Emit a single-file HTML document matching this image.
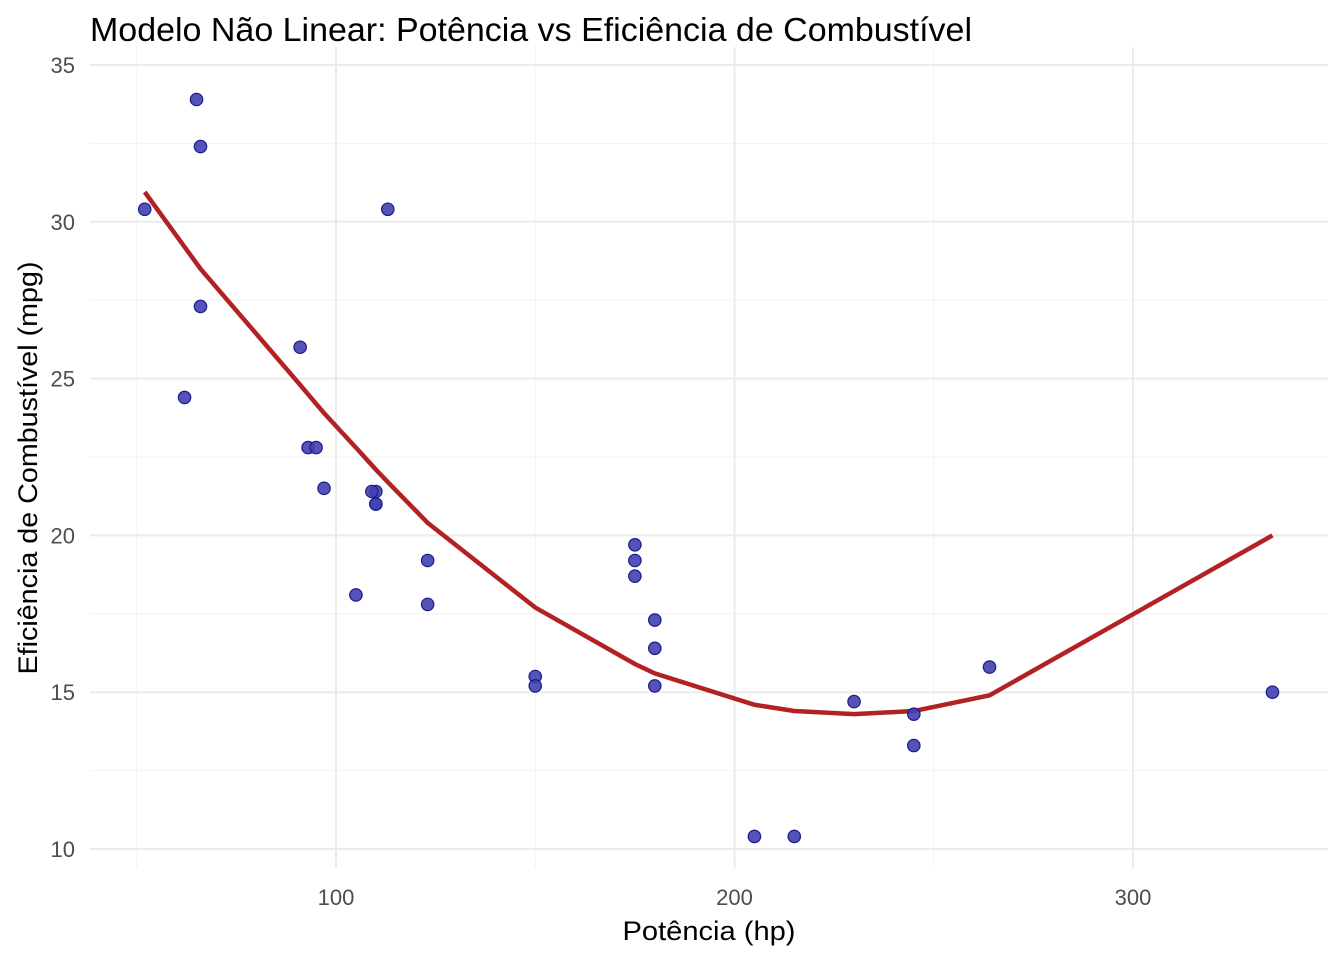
<!DOCTYPE html>
<html><head><meta charset="utf-8"><style>
body{margin:0;background:#fff;}
svg text{font-family:"Liberation Sans",sans-serif;}
</style></head><body>
<svg id="chart" width="1344" height="960" xmlns="http://www.w3.org/2000/svg">
<text x="90" y="41" font-size="33" textLength="882" lengthAdjust="spacingAndGlyphs" fill="#000">Modelo Não Linear: Potência vs Eficiência de Combustível</text>
<g id="grid"></g><g id="ticks"></g>
<text x="709" y="940" font-size="27" textLength="173" lengthAdjust="spacingAndGlyphs" text-anchor="middle">Potência (hp)</text>
<text transform="translate(37,468) rotate(-90)" font-size="27" textLength="413" lengthAdjust="spacingAndGlyphs" text-anchor="middle">Eficiência de Combustível (mpg)</text>
<g id="fit"></g><g id="points"></g>
</svg>
<script>
const hp=[110,110,93,110,175,105,245,62,95,123,123,180,180,180,205,215,230,66,52,65,97,150,150,245,175,66,91,113,264,175,335,109];
const mpg=[21,21,22.8,21.4,18.7,18.1,14.3,24.4,22.8,19.2,17.8,16.4,17.3,15.2,10.4,10.4,14.7,32.4,30.4,33.9,21.5,15.5,15.2,13.3,19.2,27.3,26,30.4,15.8,19.7,15,21.4];
const fitHp=[52,62,66,91,93,97,105,110,113,123,150,175,180,205,215,230,245,264,335];
const fitMpg=[30.95,29.2,28.5,24.8,24.5,23.9,22.8,22.1,21.7,20.4,17.7,15.9,15.6,14.6,14.4,14.3,14.4,14.9,20];
const xTicks=[100,200,300], yTicks=[10,15,20,25,30,35];
const X=v=>336+(v-100)*3.985, Y=v=>849-(v-10)*31.36;
const NS="http://www.w3.org/2000/svg";
function mk(t,a,p){const e=document.createElementNS(NS,t);for(const k in a)e.setAttribute(k,a[k]);p.appendChild(e);return e;}
const g=document.getElementById('grid'),tk=document.getElementById('ticks');
[50,150,250].forEach(v=>{const l=mk('line',{x1:X(v),x2:X(v),y1:47,y2:868,stroke:'#f2f2f2','stroke-width':1},g);});
[12.5,17.5,22.5,27.5,32.5].forEach(v=>{const l=mk('line',{x1:90,x2:1328,y1:Y(v),y2:Y(v),stroke:'#f2f2f2','stroke-width':1},g);});
xTicks.forEach(v=>{const l=mk('line',{x1:X(v),x2:X(v),y1:47,y2:868,stroke:'#ebebeb','stroke-width':2},g);
const t=mk('text',{x:X(v),y:905,'font-size':22,fill:'#4d4d4d','text-anchor':'middle'},tk);t.textContent=v;});
yTicks.forEach(v=>{const l=mk('line',{x1:90,x2:1328,y1:Y(v),y2:Y(v),stroke:'#ebebeb','stroke-width':2},g);
const t=mk('text',{x:75,y:Y(v)+8,'font-size':22,fill:'#4d4d4d','text-anchor':'end'},tk);t.textContent=v;});
const pts=document.getElementById('points');
hp.forEach((h,i)=>{const c=mk('circle',{cx:X(h),cy:Y(mpg[i]),r:6.2,fill:'#4040b0','fill-opacity':0.9,stroke:'#1a1a8c','stroke-width':1.2},pts);});
const p=mk('polyline',{points:fitHp.map((h,i)=>X(h)+','+Y(fitMpg[i])).join(' '),fill:'none',stroke:'#b22222','stroke-width':4.5},document.getElementById('fit'));

</script>
</body></html>
